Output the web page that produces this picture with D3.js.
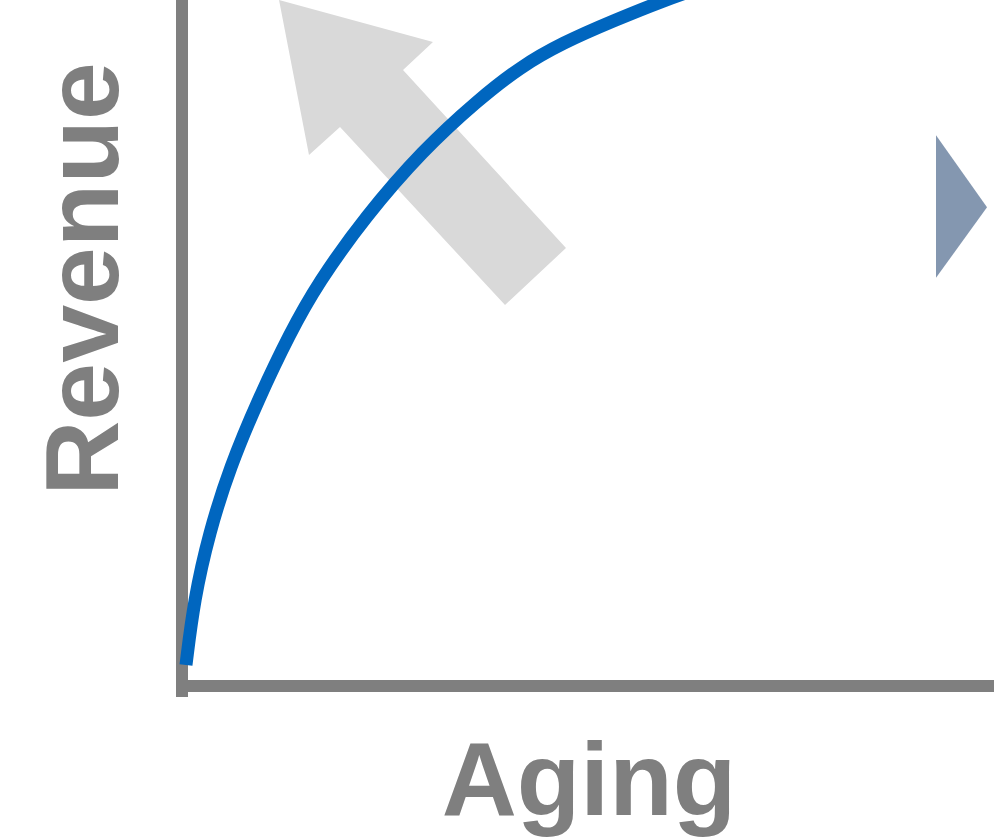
<!DOCTYPE html>
<html><head><meta charset="utf-8">
<script src="https://cdn.jsdelivr.net/npm/d3@7"></script>
<style>html,body{margin:0;padding:0;background:#fff;overflow:hidden}</style>
</head><body>
<svg id="chart" width="994" height="840"></svg>
<script>
// Conceptual revenue curve (x: aging 0-100, y: revenue 0-100)
const curveX = [0.49, 1.48, 3.33, 5.91, 9.36, 13.30, 16.75, 22.54, 29.68, 36.45, 41.63, 46.80, 53.33, 59.48, 63.79];
const curveY = [3.06, 12.54, 22.30, 31.92, 41.69, 51.46, 58.75, 68.37, 78.13, 85.42, 90.23, 93.73, 97.08, 100, 101.75];
// Up-left gray arrow outline (x, y in chart units)
const arrowX = [11.95, 30.91, 27.22, 47.29, 39.78, 19.46, 15.64];
const arrowY = [100, 93.88, 89.80, 63.85, 55.54, 81.49, 77.41];
// Right-pointing marker triangle
const markerX = [92.86, 92.86, 99.14];
const markerY = [80.3, 59.5, 69.8];
const axisLabels = ["Aging", "Revenue"];

const svg = d3.select("#chart");
const x = d3.scaleLinear().domain([0, 100]).range([182, 994]);
const y = d3.scaleLinear().domain([0, 100]).range([686, 0]);

// arrow
svg.append("polygon")
  .attr("points", arrowX.map((v, i) => [x(v), y(arrowY[i])].join(",")).join(" "))
  .attr("fill", "#D9D9D9");

// marker triangle
svg.append("polygon")
  .attr("points", markerX.map((v, i) => [x(v), y(markerY[i])].join(",")).join(" "))
  .attr("fill", "#8497B0");

// axes
svg.append("line").attr("x1", x(0)).attr("x2", x(0)).attr("y1", 0).attr("y2", y(0) + 11)
  .attr("stroke", "#7F7F7F").attr("stroke-width", 12);
svg.append("line").attr("x1", x(0) - 6).attr("x2", 994).attr("y1", y(0)).attr("y2", y(0))
  .attr("stroke", "#7F7F7F").attr("stroke-width", 12);

// curve
const pts = curveX.map((v, i) => [v, curveY[i]]);
svg.append("path")
  .attr("d", d3.line().x(d => x(d[0])).y(d => y(d[1])).curve(d3.curveBasis)(pts))
  .attr("fill", "none").attr("stroke", "#0066BF").attr("stroke-width", 13);

// labels
svg.append("text").attr("x", 589).attr("y", 815).attr("text-anchor", "middle")
  .attr("font-family", "Liberation Sans, Arial, sans-serif").attr("font-weight", "bold")
  .attr("font-size", 104).attr("fill", "#7F7F7F").text(axisLabels[0]);
svg.append("text").attr("transform", "translate(118,279) rotate(-90)").attr("text-anchor", "middle")
  .attr("font-family", "Liberation Sans, Arial, sans-serif").attr("font-weight", "bold")
  .attr("font-size", 104).attr("fill", "#7F7F7F").text(axisLabels[1]);
</script>
</body></html>
